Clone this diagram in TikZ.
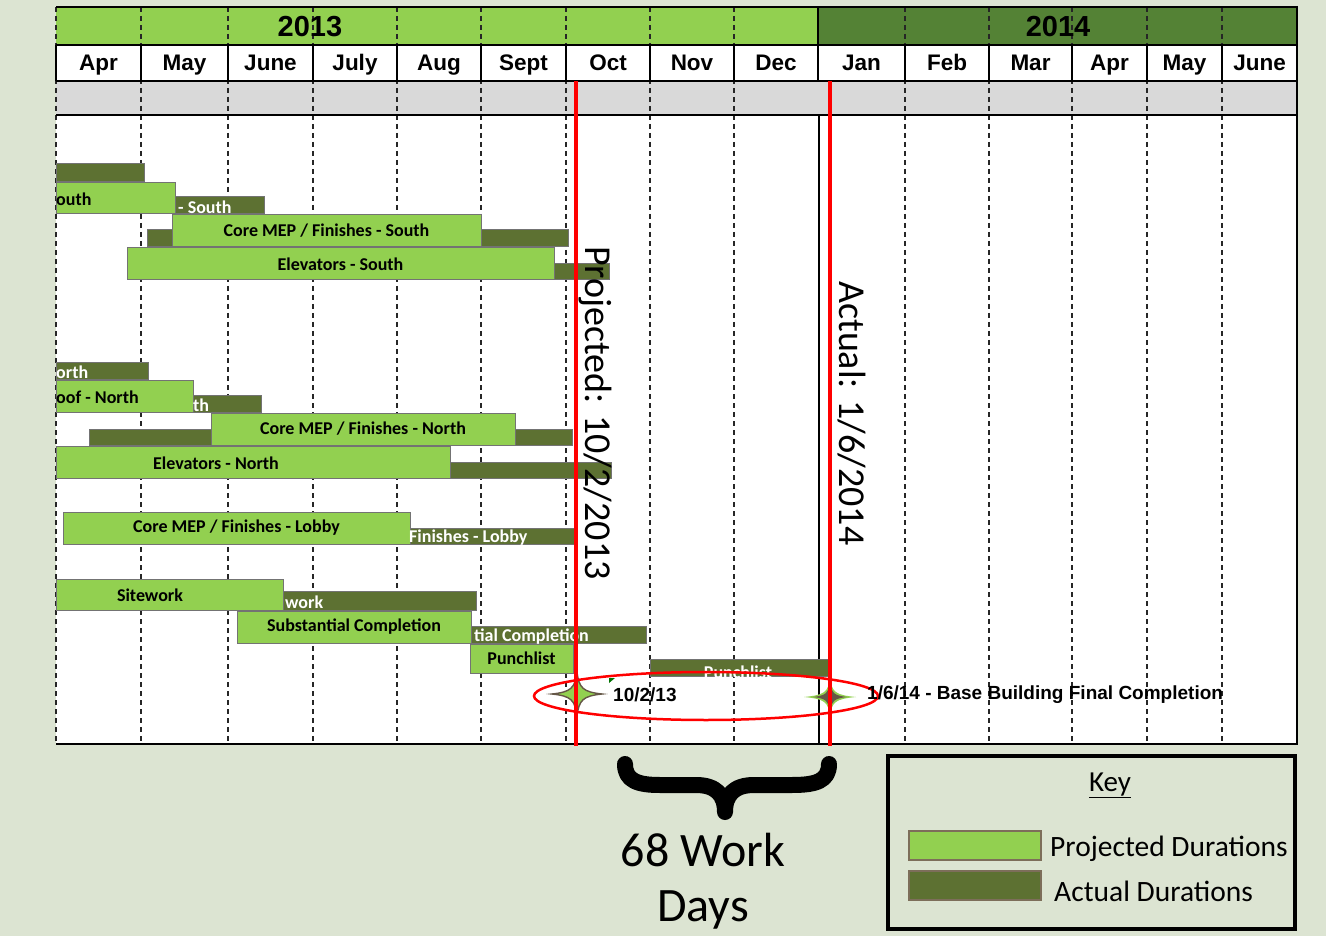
\documentclass[tikz,border=0pt]{standalone}
\usepackage{fontspec}
\setmainfont{Carlito}
\newfontfamily\arialf{Liberation Sans}
\usetikzlibrary{fit}
\definecolor{bgc}{RGB}{220,228,210}
\definecolor{lgreen}{RGB}{146,208,80}
\definecolor{dgreen}{RGB}{93,113,50}
\definecolor{yrdark}{RGB}{84,130,53}
\definecolor{grayrow}{RGB}{217,217,217}
\definecolor{barborder}{RGB}{115,115,115}
\definecolor{starbrown}{RGB}{100,86,70}
\definecolor{keyborder}{RGB}{125,110,90}
\begin{document}
\begin{tikzpicture}[x=1pt,y=-1pt,
  pbar/.style={draw=barborder, line width=1pt, fill=lgreen, inner sep=0pt},
  abar/.style={draw=barborder, line width=1pt, fill=dgreen, inner sep=0pt},
  wtext/.style={anchor=west, text=white, inner sep=0pt, font=\bfseries\fontsize{18}{18}\selectfont},
  btext/.style={text=black, inner sep=0pt, font=\bfseries\fontsize{18}{18}\selectfont},
  monthlbl/.style={anchor=base, inner sep=0pt, font=\arialf\bfseries\fontsize{22.5}{22.5}\selectfont},
  yearlbl/.style={anchor=base, inner sep=0pt, font=\arialf\bfseries\fontsize{29}{29}\selectfont},
  gridline/.style={dash pattern=on 5pt off 4pt, line width=1.1pt, black!85},
  thickline/.style={line width=2.8pt, black},
  redline/.style={line width=3.2pt, red},
  datelbl/.style={anchor=west, inner sep=0pt, font=\arialf\bfseries\fontsize{19}{19}\selectfont},
  bigrot/.style={rotate=-90, anchor=base west, inner sep=0pt, font=\fontsize{38}{38}\selectfont},
  keytext/.style={anchor=west, inner sep=0pt, font=\fontsize{29.5}{29.5}\selectfont}
]
\useasboundingbox (0,0) rectangle (1326,936);
\fill[bgc] (0,0) rectangle (1326,936);
% chart backgrounds
\fill[white] (56,115) rectangle (1297,744);
\fill[lgreen] (56,7) rectangle (818,45);
\fill[yrdark] (818,7) rectangle (1297,45);
\fill[grayrow] (56,81) rectangle (1297,115);
% dashed month grid
\foreach \x in {56,141,228,313,397,481,566,650,734,905,989,1072,1147,1222}
  \draw[gridline] (\x,7) -- (\x,744);
% month row
\fill[white] (56,45) rectangle (1297,81);
\foreach \x in {56,141,228,313,397,481,566,650,734,818,905,989,1072,1147,1222}
  \draw[line width=1.5pt] (\x,45) -- (\x,81);
\draw[line width=1.2pt] (818,7) -- (818,45);
\draw[line width=1.2pt] (819,115) -- (819,744);
% horizontal rules
\draw[thickline] (56,7) -- (1297,7);
\draw[thickline] (56,45) -- (1297,45);
\draw[thickline] (56,81) -- (1297,81);
\draw[thickline] (56,115) -- (1297,115);
\draw[thickline] (56,744) -- (1297,744);
\draw[thickline] (1297,6) -- (1297,745);
% years
\node[yearlbl] (y2013) at (310,37) {2013};
\node[yearlbl] (y2014) at (1058,37) {2014};
% months
\foreach \c/\t [count=\i] in {98.5/Apr,184.5/May,270.5/June,355/July,439/Aug,523.5/Sept,608/Oct,692/Nov,776/Dec,861.5/Jan,947/Feb,1030.5/Mar,1109.5/Apr,1184.5/May,1259.5/June}
  \node[monthlbl] (m\i) at (\c,71) {\t};
% actual (dark) bars
\node[abar, fit={(56,164) (144,182)}] (d1) {};
\node[abar, fit={(175,197) (264,214)}] (d3) {};
\node[abar, fit={(147,230) (568,247)}] (d4) {};
\node[abar, fit={(554,264) (609,280)}] (d7) {};
\node[abar, fit={(56,362) (148,379)}] (d8) {};
\node[abar, fit={(193,395) (261,412)}] (d10) {};
\node[abar, fit={(89,429) (572,445)}] (d11) {};
\node[abar, fit={(450,462) (611,478)}] (d14) {};
\node[abar, fit={(410,528) (575,544)}] (d16) {};
\node[abar, fit={(283,591) (476,610)}] (d18) {};
\node[abar, fit={(471,626) (646,643)}] (d20) {};
\node[abar, fit={(650,659) (828,676)}] (d22) {};
% projected (light) bars
\node[pbar, fit={(56,183) (175,214)}] (p2) {};
\node[pbar, fit={(172,215) (481,247)}] (p5) {};
\node[pbar, fit={(127,248) (554,280)}] (p6) {};
\node[pbar, fit={(56,380) (193,412)}] (p9) {};
\node[pbar, fit={(211,413) (515,445)}] (p12) {};
\node[pbar, fit={(56,446) (450,478)}] (p13) {};
\node[pbar, fit={(63,512) (410,544)}] (p15) {};
\node[pbar, fit={(56,579) (283,610)}] (p17) {};
\node[pbar, fit={(237,611) (471,643)}] (p19) {};
\node[pbar, fit={(470,644) (573,673)}] (p21) {};
% bar texts
\node[btext] (t5) at (p5.center) {Core MEP / Finishes - South};
\node[btext] (t6) at (p6.center) {Elevators - South};
\node[btext] (t12) at (p12.center) {Core MEP / Finishes - North};
\node[btext] (t15) at (p15.center) {Core MEP / Finishes - Lobby};
\node[btext] (t19) at (p19.center) {Substantial Completion};
\node[btext] (t21) at (p21.center) {Punchlist};
\node[btext, anchor=west] (t2) at (56,199) {outh};
\node[btext, anchor=west] (t9) at (56,397) {oof - North};
\node[btext] (t13) at (216,463) {Elevators - North};
\node[btext] (t17) at (150,595) {Sitework};
\node[wtext] (t3) at (178,207) {- South};
\node[wtext] (t8) at (56,372) {orth};
\node[wtext] (t10) at (193,405) {th};
\node[wtext] (t16) at (409,538) {Finishes - Lobby};
\node[wtext] (t18) at (285,602) {work};
\node[wtext] (t20) at (474,637) {tial Completion};
\node[text=white, inner sep=0pt, font=\bfseries\fontsize{18}{18}\selectfont] (t22) at (738,672) {Punchlist};
\fill[green!45!black] (609,678) -- (615,678) -- (609,683) -- cycle;
% stars
\begin{scope}[shift={(577,694)}]
  \filldraw[fill=lgreen, draw=starbrown, line width=1.4pt]
    (25,0) .. controls (6,-2) and (2,-6) .. (0,-22)
    .. controls (-2,-6) and (-6,-2) .. (-25,0)
    .. controls (-6,2) and (-2,6) .. (0,22)
    .. controls (2,6) and (6,2) .. cycle;
\end{scope}
\begin{scope}[shift={(830,697)}]
  \fill[lgreen]
    (26,0) .. controls (5,-2) and (2,-5) .. (0,-19)
    .. controls (-2,-5) and (-5,-2) .. (-26,0)
    .. controls (-5,2) and (-2,5) .. (0,19)
    .. controls (2,5) and (5,2) .. cycle;
  \fill[starbrown]
    (17,0) .. controls (4,-1.5) and (1.5,-4) .. (0,-14)
    .. controls (-1.5,-4) and (-4,-1.5) .. (-17,0)
    .. controls (-4,1.5) and (-1.5,4) .. (0,14)
    .. controls (1.5,4) and (4,1.5) .. cycle;
\end{scope}
% red milestone lines
\draw[redline] (576,81) -- (576,746);
\draw[redline] (830,81) -- (830,746);
\node[bigrot] (proj) at (585,246) {Projected: 10/2/2013};
\node[bigrot] (act) at (839,281) {Actual: 1/6/2014};
% ellipse and date labels
\draw[red, line width=2.5pt] (706,696) ellipse [x radius=172pt, y radius=24pt];
\node[datelbl] (d1013) at (613,695) {10/2/13};
\node[datelbl] (d0106) at (867,695) {1/6/14 - Base Building Final Completion};
% brace
\draw[line width=16pt, line cap=round, line join=round]
  (625,764) .. controls (625,781) and (638,785) .. (660,785) -- (696,785)
  .. controls (716,785) and (725,795) .. (725,812)
  .. controls (725,795) and (734,785) .. (754,785) -- (792,785)
  .. controls (816,785) and (829,781) .. (829,764);
\node[anchor=base, inner sep=0pt, font=\fontsize{48}{48}\selectfont] (wd1) at (703,866) {68 Work};
\node[anchor=base, inner sep=0pt, font=\fontsize{48}{48}\selectfont] (wd2) at (703,921) {Days};
% key
\node[draw, line width=4pt, inner sep=0pt, fit={(888,756) (1295,929)}] (keybox) {};
\node[anchor=base, inner sep=0pt, font=\fontsize{29}{29}\selectfont] (keyt) at (1110,791) {\underline{Key}};
\node[draw=keyborder, line width=1.5pt, fill=lgreen, inner sep=0pt, fit={(909,831) (1041,860)}] (kp) {};
\node[draw=keyborder, line width=1.5pt, fill=dgreen, inner sep=0pt, fit={(909,871) (1041,900)}] (ka) {};
\node[keytext] (kpt) at (1050,849) {Projected Durations};
\node[keytext] (kat) at (1054,891) {Actual Durations};
\end{tikzpicture}
\end{document}
